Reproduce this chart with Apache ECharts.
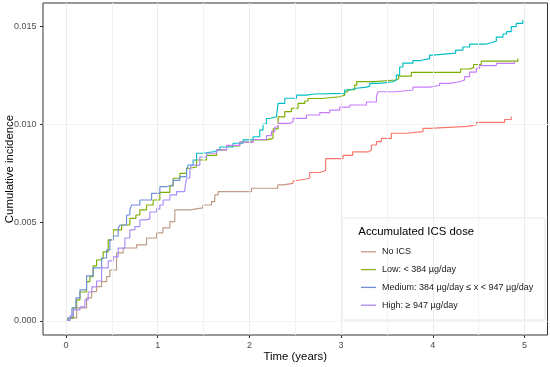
<!DOCTYPE html>
<html>
<head>
<meta charset="utf-8">
<script src="https://cdn.jsdelivr.net/npm/echarts@6/dist/echarts.min.js"></script>
<style>
html,body{margin:0;padding:0;background:#fff;}
#chart{width:550px;height:367px;}
</style>
</head>
<body>
<div id="chart"></div>
<script>
// ---- data (time in years, cumulative incidence) ----
const seriesNames = ['No ICS', 'Low: < 384 \u00b5g/day', 'Medium: 384 \u00b5g/day \u2264 x < 947 \u00b5g/day', 'High: \u2265 947 \u00b5g/day'];

const noIcs = [[0,0],[0.044,0.00015],[0.117,0.00066],[0.225,0.00117],[0.28,0.00149],[0.334,0.00174],[0.389,0.0020],[0.443,0.00225],[0.479,0.00259],[0.552,0.00346],[0.624,0.00371],[0.77,0.00387],[0.879,0.00422],[0.988,0.00448],[1.057,0.00473],[1.133,0.00505],[1.187,0.00565],[1.351,0.00575],[1.492,0.0059],[1.587,0.00607],[1.623,0.00641],[1.659,0.00658],[2.023,0.00675],[2.309,0.00692],[2.367,0.0070],[2.476,0.00712],[2.495,0.00722],[2.622,0.00727],[2.658,0.00755],[2.767,0.00765],[2.832,0.00826],[3.021,0.00842],[3.126,0.0086],[3.293,0.0087],[3.33,0.00895],[3.385,0.00912],[3.439,0.00929],[3.548,0.00955],[3.711,0.00963],[3.892,0.0098],[3.965,0.0099],[4.379,0.00999],[4.477,0.0101],[4.782,0.01025],[4.855,0.0104]];

const low = [[0,0],[0.022,0.00014],[0.08,0.00066],[0.117,0.00107],[0.153,0.00147],[0.225,0.0020],[0.261,0.00225],[0.297,0.0028],[0.334,0.0031],[0.37,0.00319],[0.406,0.00351],[0.461,0.00412],[0.515,0.00463],[0.607,0.00488],[0.697,0.00522],[0.763,0.00539],[0.806,0.00565],[0.879,0.0059],[0.951,0.00615],[1.024,0.00654],[1.133,0.00687],[1.169,0.00726],[1.242,0.00751],[1.315,0.00777],[1.351,0.00783],[1.424,0.00819],[1.533,0.00842],[1.642,0.0087],[1.751,0.0089],[1.895,0.0091],[2.04,0.00921],[2.186,0.00929],[2.258,0.00977],[2.313,0.01038],[2.386,0.01065],[2.459,0.01082],[2.531,0.01107],[2.603,0.01119],[2.639,0.01132],[2.785,0.01141],[2.985,0.01149],[3.039,0.01166],[3.072,0.01177],[3.148,0.012],[3.17,0.01218],[3.366,0.01226],[3.595,0.01231],[3.627,0.01246],[3.766,0.01265],[4.303,0.01282],[4.401,0.01289],[4.444,0.01305],[4.528,0.01322],[4.927,0.01335]];

const medium = [[0,0],[0.022,0.00015],[0.065,0.00066],[0.109,0.00117],[0.153,0.00158],[0.225,0.00229],[0.297,0.0027],[0.389,0.0032],[0.443,0.00361],[0.479,0.00412],[0.515,0.00432],[0.57,0.00471],[0.588,0.00488],[0.661,0.00539],[0.697,0.00565],[0.716,0.0059],[0.806,0.00615],[0.934,0.00649],[1.024,0.00683],[1.097,0.00692],[1.169,0.00715],[1.242,0.00734],[1.315,0.00768],[1.332,0.00793],[1.387,0.00819],[1.424,0.00853],[1.496,0.00861],[1.605,0.0087],[1.678,0.00885],[1.822,0.00904],[1.931,0.00921],[2.04,0.00937],[2.113,0.00971],[2.149,0.01002],[2.186,0.0103],[2.222,0.01039],[2.295,0.01048],[2.313,0.01107],[2.386,0.01133],[2.513,0.01149],[2.622,0.01155],[2.712,0.01158],[3.039,0.01175],[3.094,0.01184],[3.167,0.0119],[3.276,0.01195],[3.312,0.01209],[3.42,0.01217],[3.565,0.01226],[3.602,0.01251],[3.638,0.01292],[3.674,0.01312],[3.783,0.01325],[3.867,0.01335],[3.965,0.01353],[4.001,0.01363],[4.248,0.01378],[4.328,0.01394],[4.401,0.01409],[4.583,0.01416],[4.637,0.01424],[4.692,0.01444],[4.764,0.0146],[4.804,0.01472],[4.855,0.01498],[4.909,0.01514],[4.981,0.01531]];

const high = [[0,0],[0.044,0.00025],[0.08,0.00056],[0.153,0.00071],[0.207,0.00107],[0.243,0.00147],[0.283,0.00173],[0.334,0.00203],[0.389,0.0027],[0.461,0.00305],[0.515,0.00326],[0.57,0.0037],[0.643,0.00422],[0.697,0.00463],[0.752,0.0048],[0.806,0.00514],[0.879,0.00519],[0.915,0.00554],[0.988,0.0057],[1.024,0.0059],[1.06,0.00615],[1.133,0.00641],[1.206,0.00658],[1.296,0.00671],[1.315,0.00727],[1.351,0.00768],[1.369,0.00793],[1.46,0.00834],[1.533,0.00853],[1.642,0.0087],[1.751,0.00893],[1.895,0.0091],[2.04,0.00923],[2.186,0.00943],[2.24,0.00963],[2.277,0.00987],[2.313,0.01005],[2.44,0.01014],[2.476,0.01031],[2.622,0.01048],[2.767,0.0106],[2.876,0.01073],[2.985,0.01088],[3.094,0.01099],[3.276,0.01114],[3.385,0.01141],[3.402,0.01166],[3.602,0.01175],[3.783,0.0119],[3.965,0.01198],[4.074,0.01209],[4.183,0.01217],[4.292,0.01226],[4.346,0.01243],[4.401,0.01266],[4.474,0.01285],[4.51,0.01299],[4.692,0.01311],[4.891,0.01319]];

// ---- axis ticks ----
const xMajor = [0, 1, 2, 3, 4, 5];
const xMinor = [0.5, 1.5, 2.5, 3.5, 4.5];
const yMajor = [0, 0.005, 0.010, 0.015];
const yMinor = [0.0025, 0.0075, 0.0125];

// ---- styling ----
const lineColors = ['#F8766D', '#7CAE00', '#00BFC4', '#C77CFF'];
const earlyColors = ['#BC9A84', '#86AE1C', '#6F8ED8', '#A98CF8'];
const splitAt = [0.487, 0.0, 0.262, 0.31];
const legendColors = ['#C49C84', '#8DB020', '#6F8ED4', '#A88CF2'];

function grad(i) {
  const s = splitAt[i];
  if (s <= 0) return lineColors[i];
  return new echarts.graphic.LinearGradient(0, 0, 1, 0, [
    {offset: 0, color: earlyColors[i]},
    {offset: s, color: earlyColors[i]},
    {offset: Math.min(1, s + 0.03), color: lineColors[i]},
    {offset: 1, color: lineColors[i]}
  ]);
}

const chart = echarts.init(document.getElementById('chart'), null, {renderer: 'canvas'});
const FONT = 'Liberation Sans, Arial, Helvetica, sans-serif';

const gridMarks = [];
xMajor.forEach(v => gridMarks.push({xAxis: v, lineStyle: {color: '#EBEBEB', width: 1, type: 'solid'}}));
xMinor.forEach(v => gridMarks.push({xAxis: v, lineStyle: {color: '#F3F3F3', width: 1, type: 'solid'}}));
yMajor.forEach(v => gridMarks.push({yAxis: v, lineStyle: {color: '#EBEBEB', width: 1, type: 'solid'}}));
yMinor.forEach(v => gridMarks.push({yAxis: v, lineStyle: {color: '#F3F3F3', width: 1, type: 'solid'}}));

const datasets = [noIcs, low, medium, high];
const series = [{
  type: 'line', name: '_grid', data: [], z: 1, silent: true,
  markLine: {silent: true, symbol: ['none', 'none'], label: {show: false}, animation: false, data: gridMarks}
}];
datasets.forEach((d, i) => {
  series.push({
    type: 'line', name: seriesNames[i], data: d, step: 'end', showSymbol: false, symbol: 'none',
    z: 3, lineStyle: {width: 1.15, color: grad(i)}, itemStyle: {color: lineColors[i]}
  });
});

chart.setOption({
  animation: false,
  backgroundColor: '#ffffff',
  textStyle: {fontFamily: FONT},
  grid: {left: 43, right: 2.5, top: 3, bottom: 32, show: true, borderColor: '#333333', borderWidth: 1, backgroundColor: '#ffffff', containLabel: false, outerBoundsMode: 'none'},
  xAxis: {
    type: 'value', min: -0.25, max: 5.25, splitNumber: 5,
    name: 'Time (years)', nameLocation: 'middle', nameGap: 16, nameMoveOverlap: false,
    nameTextStyle: {fontSize: 11.4, color: '#000000', fontFamily: FONT},
    axisLine: {show: false, onZero: false},
    axisTick: {show: true, length: 3, lineStyle: {color: '#333333', width: 1}, customValues: xMajor},
    axisLabel: {fontSize: 9, color: '#4D4D4D', margin: 6, fontFamily: FONT, customValues: xMajor,
      formatter: v => String(Math.round(v))},
    splitLine: {show: false}, minorSplitLine: {show: false}
  },
  yAxis: {
    type: 'value', min: -0.00072, max: 0.01618, splitNumber: 5,
    name: 'Cumulative incidence', nameLocation: 'middle', nameGap: 28, nameMoveOverlap: false,
    nameTextStyle: {fontSize: 11.4, color: '#000000', fontFamily: FONT},
    axisLine: {show: false, onZero: false},
    axisTick: {show: true, length: 3, lineStyle: {color: '#333333', width: 1}, customValues: yMajor},
    axisLabel: {fontSize: 9, color: '#4D4D4D', margin: 6.5, fontFamily: FONT, customValues: yMajor,
      formatter: v => v.toFixed(3)},
    splitLine: {show: false}, minorSplitLine: {show: false}
  },
  legend: {
    orient: 'vertical', left: 361, top: 245.8, padding: 0, itemGap: 5.8,
    itemWidth: 15, itemHeight: 1.3, icon: 'rect', z: 7,
    textStyle: {fontSize: 9, color: '#1a1a1a', fontFamily: FONT, lineHeight: 12, padding: [0, 0, 0, 1]},
    selectedMode: false,
    data: seriesNames.map((n, i) => ({name: n, itemStyle: {color: legendColors[i]}, lineStyle: {color: legendColors[i]}}))
  },
  graphic: [
    {type: 'rect', z: 5, shape: {x: 342, y: 218, width: 203, height: 102}, style: {fill: '#ffffff', stroke: '#E6E6E6', lineWidth: 1}},
    {type: 'text', z: 7, x: 358.3, y: 231.7, style: {text: 'Accumulated ICS dose', font: '11.4px ' + FONT, fill: '#000000', textVerticalAlign: 'middle', verticalAlign: 'middle'}}
  ],
  series: series
});
</script>
</body>
</html>
